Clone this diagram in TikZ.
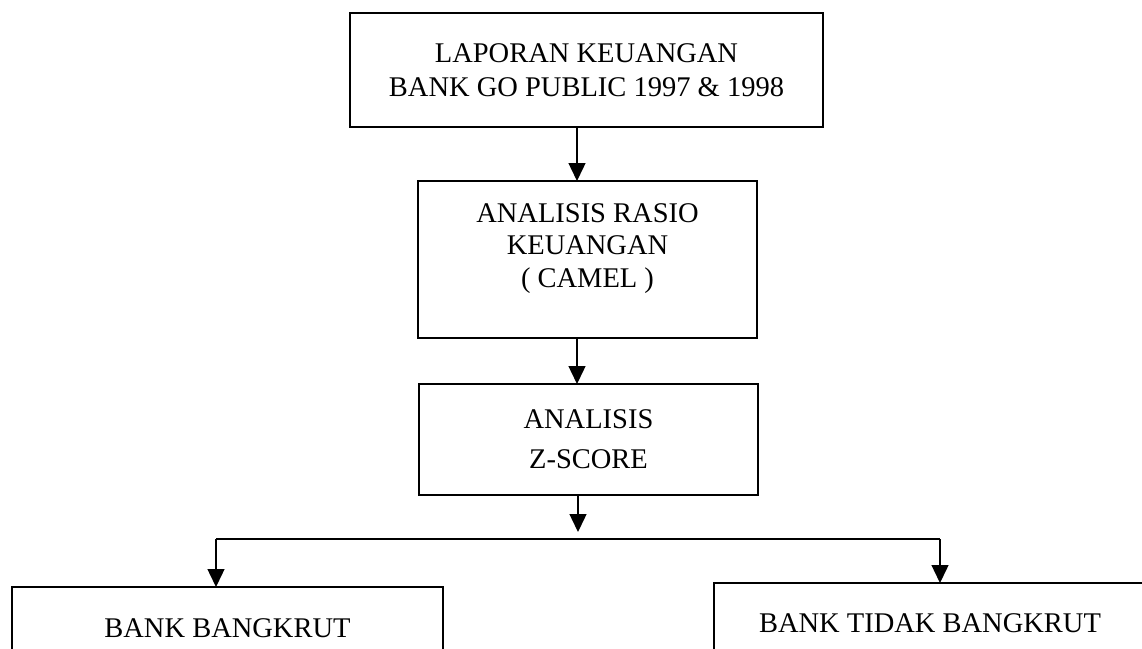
\documentclass[tikz,border=0pt]{standalone}
\usepackage{fontspec}
\setmainfont{Liberation Serif}
\usetikzlibrary{arrows.meta}
\begin{document}
\begin{tikzpicture}[x=1pt,y=-1pt,
  boxnode/.style={draw, rectangle, line width=1.4pt, inner sep=0pt, outer sep=0pt,
    align=center, font=\fontsize{28.5}{34}\selectfont},
  conn/.style={line width=1.4pt},
  arr/.style={conn, -{Triangle[length=18pt,width=17pt]}}]
\clip (0,0) rectangle (1142,648);
\fill[white] (0,0) rectangle (1142,648);
\node[boxnode, minimum width=473pt, minimum height=114pt] (b1) at (586.5,70)
  {LAPORAN KEUANGAN\\BANK GO PUBLIC 1997 \& 1998};
\node[boxnode, minimum width=339pt, minimum height=157pt,
  font=\fontsize{28.5}{32.5}\selectfont] (b2) at (587.5,259.5)
  {ANALISIS RASIO\\KEUANGAN\\( CAMEL )\rule[-28pt]{0pt}{0pt}};
\node[boxnode, minimum width=339pt, minimum height=111pt,
  font=\fontsize{28.5}{40}\selectfont] (b3) at (588.5,439.5)
  {ANALISIS\\Z-SCORE};
\node[boxnode, minimum width=431pt, minimum height=82pt] (bl) at (227.5,628)
  {BANK BANGKRUT};
\node[boxnode, minimum width=432pt, minimum height=80pt] (br) at (930,623)
  {BANK TIDAK BANGKRUT};
\coordinate (ax) at (577,0);
\coordinate (j) at (578,532);
\coordinate (hl) at (216,539);
\coordinate (hr) at (940,539);
\draw[arr] (b1.south -| ax) -- (b2.north -| ax);
\draw[arr] (b2.south -| ax) -- (b3.north -| ax);
\draw[arr] (b3.south -| j) -- (j);
\draw[conn] (hl) -- (hr);
\draw[arr] (hl) -- (bl.north -| hl);
\draw[arr] (hr) -- (br.north -| hr);
\end{tikzpicture}
\end{document}
